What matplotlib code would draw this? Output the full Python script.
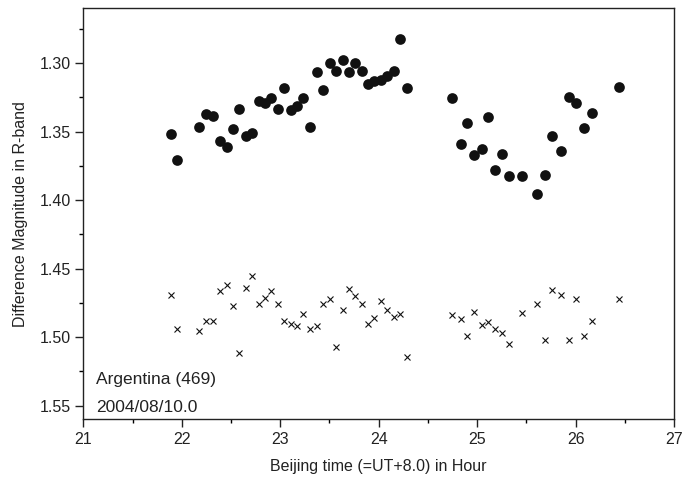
import matplotlib
matplotlib.use("Agg")
from matplotlib import pyplot as plt
from matplotlib.ticker import MultipleLocator

plt.rcParams['font.family'] = ['Liberation Sans', 'DejaVu Sans']

# Beijing time (hours) of each frame
hora = [21.891, 21.955, 22.177, 22.247, 22.315, 22.387, 22.457, 22.518, 22.586, 22.653,
        22.717, 22.780, 22.847, 22.910, 22.974, 23.040, 23.106, 23.169, 23.234, 23.302,
        23.373, 23.439, 23.507, 23.568, 23.634, 23.698, 23.764, 23.827, 23.890, 23.955,
        24.020, 24.084, 24.152, 24.218, 24.285,
        24.748, 24.831, 24.900, 24.972, 25.045, 25.113, 25.181, 25.250, 25.324, 25.456,
        25.610, 25.685, 25.761, 25.855, 25.931, 26.007, 26.088, 26.167, 26.445]

# variable - comparison (dots)
dif_var = [1.352, 1.371, 1.347, 1.3375, 1.3387, 1.357, 1.361, 1.348, 1.3336, 1.353,
           1.3513, 1.3275, 1.3294, 1.3255, 1.3335, 1.3185, 1.3345, 1.3313, 1.3255, 1.3464,
           1.3063, 1.3195, 1.3003, 1.3056, 1.2974, 1.3063, 1.2996, 1.3056, 1.3153, 1.3134,
           1.3124, 1.3095, 1.3056, 1.2825, 1.3185,
           1.3255, 1.3593, 1.3435, 1.3674, 1.3625, 1.3394, 1.3783, 1.3664, 1.3824, 1.3824,
           1.3953, 1.3814, 1.3535, 1.3644, 1.3251, 1.3294, 1.3474, 1.3365, 1.3175]

# comparison - check (crosses)
dif_chk = [1.4691, 1.4942, 1.4959, 1.4881, 1.4881, 1.4665, 1.4623, 1.4772, 1.5114, 1.4645,
           1.4553, 1.4762, 1.4713, 1.4662, 1.4762, 1.4881, 1.4903, 1.4922, 1.483, 1.4944,
           1.4922, 1.4762, 1.4723, 1.5073, 1.4801, 1.465, 1.4701, 1.4762, 1.4901, 1.4862,
           1.4733, 1.4804, 1.4855, 1.483, 1.5146,
           1.4842, 1.4871, 1.4993, 1.482, 1.4913, 1.4888, 1.4944, 1.4971, 1.5054, 1.4823,
           1.4762, 1.5024, 1.4653, 1.4691, 1.5024, 1.4723, 1.4993, 1.4881, 1.4723]

fig = plt.figure(figsize=(6.83, 4.84), dpi=100)
ax = fig.add_axes([0.122, 0.1337, 0.865, 0.8492])

ax.plot(hora, dif_var, 'o', color='#111111', markersize=7.7, markeredgewidth=0)
ax.plot(hora, dif_chk, 'x', color='#111111', markersize=5, markeredgewidth=0.8)

ax.set_xlim(21, 27)
ax.set_ylim(1.56, 1.26)
ax.xaxis.set_major_locator(MultipleLocator(1))
ax.xaxis.set_minor_locator(MultipleLocator(0.5))
ax.yaxis.set_major_locator(MultipleLocator(0.05))
ax.yaxis.set_minor_locator(MultipleLocator(0.025))
ax.yaxis.set_major_formatter(matplotlib.ticker.FormatStrFormatter('%.2f'))
ax.tick_params(which='major', direction='out', length=5.5, width=1, labelsize=11.5, colors='#222222')
ax.tick_params(which='minor', direction='out', length=3, width=1)
for s in ax.spines.values():
    s.set_linewidth(1)
    s.set_color('#222222')

ax.set_xlabel("Beijing time (=UT+8.0) in Hour", fontsize=11.5, color='#222222', labelpad=9)
ax.set_ylabel("Difference Magnitude in R-band", fontsize=11.5, color='#222222', labelpad=8)

ax.text(0.022, 0.087, "Argentina (469)", transform=ax.transAxes, fontsize=12.5, color='#222222')
ax.text(0.022, 0.017, "2004/08/10.0", transform=ax.transAxes, fontsize=12.5, color='#222222')

plt.savefig("out.png", dpi=100)
